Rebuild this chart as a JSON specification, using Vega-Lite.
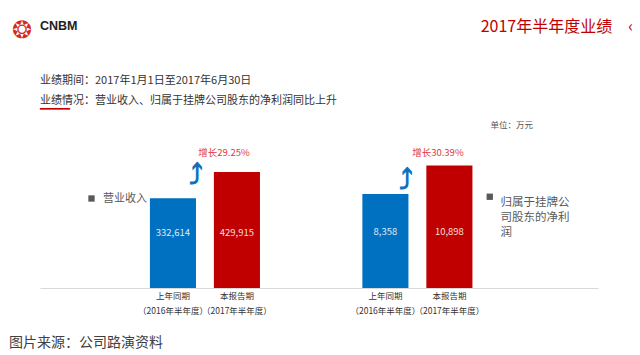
{
  "$schema": "https://vega.github.io/schema/vega-lite/v6.json",
  "padding": {"left": 9, "top": 18, "right": 5, "bottom": 5},
  "background": "white",
  "config": {
    "font": "Noto Sans CJK SC",
    "view": {"stroke": null},
    "concat": {"spacing": 0},
    "title": {"fontWeight": "normal"},
    "style": {"guide-label": {"lineHeight": 15}}
  },
  "datasets": {
    "results": [
      {"metric": "营业收入", "period": "上年同期", "span": "（2016年半年度）", "value": 332614},
      {"metric": "营业收入", "period": "本报告期", "span": "（2017年半年度）", "value": 429915, "growth": "增长29.25%"},
      {"metric": "归属于挂牌公司股东的净利润", "period": "上年同期", "span": "（2016年半年度）", "value": 8358},
      {"metric": "归属于挂牌公司股东的净利润", "period": "本报告期", "span": "（2017年半年度）", "value": 10898, "growth": "增长30.39%"}
    ]
  },
  "title": {"text": "❂", "anchor": "start", "font": "DejaVu Sans", "fontSize": 24, "color": "#D42A20", "dx": 3, "dy": 28},
  "vconcat": [{
    "title": {"text": "CNBM", "anchor": "start", "font": "Liberation Sans", "fontSize": 12.5, "fontWeight": "bold", "color": "#222222", "dx": 31, "dy": 18},
    "vconcat": [{
      "title": {"text": "━━━━━", "anchor": "start", "font": "DejaVu Sans Mono", "fontSize": 10, "color": "#C00000", "dx": 31, "dy": 99},
      "vconcat": [{
        "title": {"text": "2017年半年度业绩　‹", "anchor": "end", "fontSize": 16, "color": "#C00000", "dx": 35, "dy": -4, "offset": 36},
        "vconcat": [{
          "title": {"text": "图片来源：公司路演资料", "orient": "bottom", "anchor": "start", "fontSize": 14, "color": "#404040", "dx": -31, "offset": 21},
          "vconcat": [{
            "title": {"text": ["业绩期间：2017年1月1日至2017年6月30日", "业绩情况：营业收入、归属于挂牌公司股东的净利润同比上升"], "anchor": "start", "fontSize": 11, "lineHeight": 20, "color": "#333333", "offset": 15},
            "vconcat": [{
              "title": {"text": "单位：万元", "anchor": "end", "fontSize": 8.5, "color": "#555555", "dx": -65, "offset": 9},
              "width": 558,
              "height": 150,
              "data": {"name": "results"},
              "encoding": {
                "x": {
                  "field": "metric", "type": "nominal", "sort": null,
                  "scale": {"paddingInner": 0.3976, "paddingOuter": 0.512, "align": 0.464},
                  "axis": {"title": null, "labels": false, "ticks": false, "domainColor": "#D9D9D9"}
                },
                "xOffset": {
                  "field": "period", "type": "nominal", "sort": null,
                  "scale": {"paddingInner": 0.28, "paddingOuter": 0.14}
                }
              },
              "layer": [
                {
                  "transform": [{"filter": "datum.metric == '营业收入'"}],
                  "encoding": {
                    "y": {"field": "value", "type": "quantitative", "scale": {"domain": [0, 556000], "nice": false}, "axis": null}
                  },
                  "layer": [
                    {
                      "mark": {"type": "bar"},
                      "encoding": {
                        "color": {"field": "period", "type": "nominal", "sort": null, "scale": {"range": ["#0070C0", "#C00000"]}, "legend": null},
                        "opacity": {"field": "metric", "type": "ordinal", "scale": {"range": [1]}, "legend": {"orient": "none", "legendX": 46, "legendY": 55, "title": null, "symbolType": "square", "symbolSize": 40, "symbolFillColor": "#595959", "symbolStrokeWidth": 0, "labelFontSize": 11, "labelColor": "#595959", "labelOffset": 6}}
                      }
                    },
                    {
                      "mark": {"type": "text", "fontSize": 9.5, "color": "white", "opacity": 0.85},
                      "encoding": {"y": {"datum": 205720, "type": "quantitative"}, "text": {"field": "value", "type": "quantitative", "format": ","}}
                    },
                    {
                      "transform": [{"filter": "datum.growth"}],
                      "mark": {"type": "text", "fontSize": 9.5, "color": "#E0393E", "dx": -13, "dy": -19.3},
                      "encoding": {"text": {"field": "growth"}}
                    },
                    {
                      "transform": [{"filter": "!datum.growth"}],
                      "mark": {"type": "text", "text": "⤴", "font": "DejaVu Sans", "fontWeight": "bold", "fontSize": 28, "color": "#1070C0", "dx": 23, "dy": -21},
                      "encoding": {}
                    },
                    {
                      "mark": {"type": "text", "fontSize": 8.5, "color": "#333333", "dy": 7.5},
                      "encoding": {"y": {"datum": 0, "type": "quantitative"}, "text": {"field": "period"}}
                    },
                    {
                      "mark": {"type": "text", "fontSize": 8.5, "color": "#333333", "dy": 22.5},
                      "encoding": {"y": {"datum": 0, "type": "quantitative"}, "text": {"field": "span"}}
                    }
                  ]
                },
                {
                  "transform": [{"filter": "datum.metric == '归属于挂牌公司股东的净利润'"}],
                  "encoding": {
                    "y": {"field": "value", "type": "quantitative", "scale": {"domain": [0, 13350], "nice": false}, "axis": null}
                  },
                  "layer": [
                    {
                      "mark": {"type": "bar"},
                      "encoding": {
                        "color": {"field": "period", "type": "nominal", "sort": null, "scale": {"range": ["#0070C0", "#C00000"]}, "legend": null},
                        "opacity": {"field": "metric", "type": "ordinal", "scale": {"range": [1]}, "legend": {"orient": "none", "legendX": 444, "legendY": 53, "title": null, "symbolType": "square", "symbolSize": 40, "symbolFillColor": "#595959", "symbolStrokeWidth": 0, "labelFontSize": 11.5, "labelColor": "#595959", "labelOffset": 5, "labelBaseline": "top", "labelExpr": "[substring(datum.label,0,6), substring(datum.label,6,12), substring(datum.label,12)]"}}
                      }
                    },
                    {
                      "mark": {"type": "text", "fontSize": 9.5, "color": "white", "opacity": 0.85},
                      "encoding": {"y": {"datum": 4940, "type": "quantitative"}, "text": {"field": "value", "type": "quantitative", "format": ","}}
                    },
                    {
                      "transform": [{"filter": "datum.growth"}],
                      "mark": {"type": "text", "fontSize": 9.5, "color": "#E0393E", "dx": -11.5, "dy": -13},
                      "encoding": {"text": {"field": "growth"}}
                    },
                    {
                      "transform": [{"filter": "!datum.growth"}],
                      "mark": {"type": "text", "text": "⤴", "font": "DejaVu Sans", "fontWeight": "bold", "fontSize": 28, "color": "#1070C0", "dx": 20.5, "dy": -12},
                      "encoding": {}
                    },
                    {
                      "mark": {"type": "text", "fontSize": 8.5, "color": "#333333", "dy": 7.5},
                      "encoding": {"y": {"datum": 0, "type": "quantitative"}, "text": {"field": "period"}}
                    },
                    {
                      "mark": {"type": "text", "fontSize": 8.5, "color": "#333333", "dy": 22.5},
                      "encoding": {"y": {"datum": 0, "type": "quantitative"}, "text": {"field": "span"}}
                    }
                  ]
                }
              ],
              "resolve": {"scale": {"y": "independent", "opacity": "independent"}, "legend": {"opacity": "independent"}}
            }]
          }]
        }]
      }]
    }]
  }]
}
